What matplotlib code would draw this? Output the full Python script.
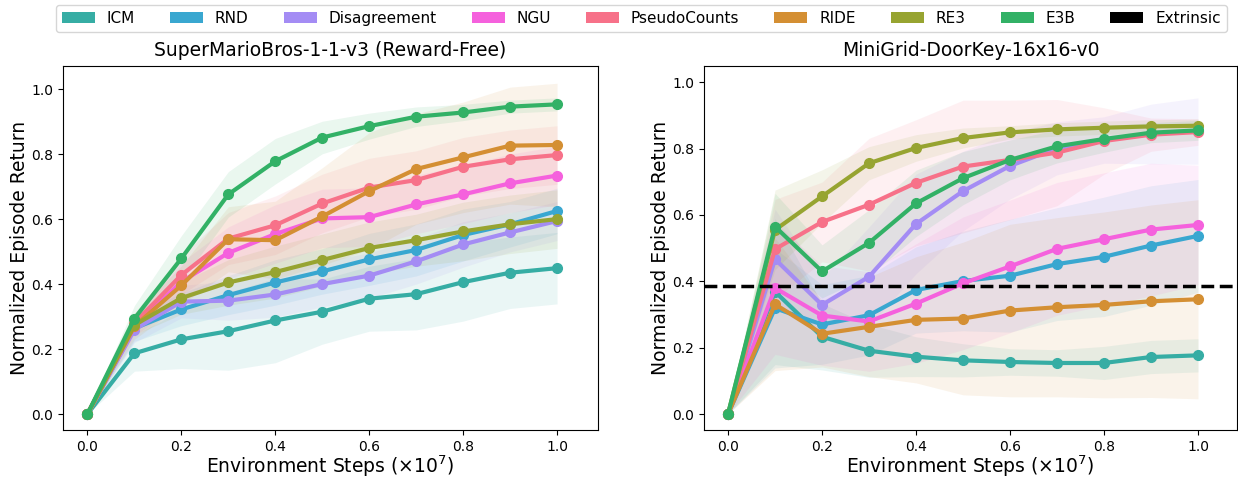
import numpy as np
import matplotlib
matplotlib.use("Agg")
import matplotlib.pyplot as plt
from matplotlib.patches import Patch

steps = [0.0, 0.1, 0.2, 0.3, 0.4, 0.5, 0.6, 0.7, 0.8, 0.9, 1.0]
methods = ["ICM", "RND", "Disagreement", "NGU", "PseudoCounts", "RIDE", "RE3", "E3B"]
colors = ["#36ada4", "#39a7d0", "#a48cf4", "#f561dd", "#f77189", "#d48f33", "#97a431", "#32b166"]

# SuperMarioBros-1-1-v3 (Reward-Free): mean curves
mario_mean = {
    "ICM":          [0, 0.187, 0.230, 0.255, 0.288, 0.315, 0.355, 0.369, 0.406, 0.435, 0.449],
    "RND":          [0, 0.264, 0.322, 0.366, 0.405, 0.439, 0.476, 0.505, 0.551, 0.584, 0.625],
    "Disagreement": [0, 0.260, 0.346, 0.349, 0.368, 0.400, 0.426, 0.470, 0.522, 0.559, 0.594],
    "NGU":          [0, 0.270, 0.407, 0.496, 0.554, 0.602, 0.606, 0.645, 0.676, 0.710, 0.734],
    "PseudoCounts": [0, 0.280, 0.428, 0.540, 0.581, 0.648, 0.697, 0.720, 0.761, 0.784, 0.797],
    "RIDE":         [0, 0.270, 0.396, 0.538, 0.535, 0.608, 0.686, 0.754, 0.790, 0.826, 0.828],
    "RE3":          [0, 0.274, 0.357, 0.405, 0.437, 0.474, 0.511, 0.535, 0.562, 0.584, 0.600],
    "E3B":          [0, 0.294, 0.479, 0.676, 0.778, 0.851, 0.886, 0.915, 0.928, 0.946, 0.953],
}
# spread of the shaded bands
mario_sd = {
    "ICM":          [0, 0.055, 0.09, 0.12, 0.13, 0.10, 0.10, 0.11, 0.12, 0.11, 0.11],
    "RND":          [0, 0.04, 0.05, 0.06, 0.07, 0.07, 0.08, 0.08, 0.08, 0.07, 0.07],
    "Disagreement": [0, 0.04, 0.05, 0.06, 0.07, 0.07, 0.07, 0.07, 0.07, 0.06, 0.06],
    "NGU":          [0, 0.03, 0.06, 0.08, 0.09, 0.09, 0.09, 0.09, 0.09, 0.09, 0.09],
    "PseudoCounts": [0, 0.03, 0.06, 0.08, 0.09, 0.09, 0.09, 0.09, 0.09, 0.09, 0.09],
    "RIDE":         [0, 0.04, 0.06, 0.10, 0.12, 0.15, 0.18, 0.17, 0.17, 0.18, 0.19],
    "RE3":          [0, 0.03, 0.05, 0.07, 0.08, 0.08, 0.08, 0.08, 0.09, 0.09, 0.09],
    "E3B":          [0, 0.04, 0.07, 0.07, 0.07, 0.05, 0.04, 0.03, 0.025, 0.02, 0.02],
}

# MiniGrid-DoorKey-16x16-v0
door_mean = {
    "ICM":          [0, 0.369, 0.233, 0.191, 0.173, 0.162, 0.157, 0.154, 0.154, 0.172, 0.177],
    "RND":          [0, 0.319, 0.270, 0.298, 0.374, 0.401, 0.417, 0.452, 0.474, 0.508, 0.537],
    "Disagreement": [0, 0.467, 0.329, 0.414, 0.573, 0.672, 0.748, 0.801, 0.826, 0.844, 0.853],
    "NGU":          [0, 0.380, 0.297, 0.279, 0.333, 0.394, 0.445, 0.498, 0.527, 0.556, 0.570],
    "PseudoCounts": [0, 0.497, 0.579, 0.631, 0.697, 0.746, 0.766, 0.788, 0.823, 0.842, 0.850],
    "RIDE":         [0, 0.331, 0.242, 0.263, 0.284, 0.288, 0.312, 0.322, 0.329, 0.340, 0.346],
    "RE3":          [0, 0.555, 0.656, 0.756, 0.802, 0.832, 0.849, 0.858, 0.863, 0.867, 0.869],
    "E3B":          [0, 0.565, 0.430, 0.516, 0.635, 0.711, 0.766, 0.807, 0.829, 0.848, 0.855],
}
door_sd = {
    "ICM":          [0, 0.22, 0.10, 0.08, 0.06, 0.05, 0.04, 0.04, 0.05, 0.05, 0.05],
    "RND":          [0, 0.18, 0.12, 0.12, 0.13, 0.15, 0.17, 0.17, 0.18, 0.18, 0.17],
    "Disagreement": [0, 0.15, 0.08, 0.15, 0.15, 0.12, 0.10, 0.08, 0.07, 0.09, 0.10],
    "NGU":          [0, 0.20, 0.15, 0.15, 0.18, 0.20, 0.20, 0.20, 0.20, 0.20, 0.18],
    "PseudoCounts": [0, 0.15, 0.12, 0.20, 0.19, 0.20, 0.18, 0.16, 0.10, 0.05, 0.04],
    "RIDE":         [0, 0.20, 0.10, 0.15, 0.19, 0.23, 0.26, 0.27, 0.28, 0.29, 0.30],
    "RE3":          [0, 0.12, 0.08, 0.05, 0.04, 0.03, 0.02, 0.02, 0.02, 0.02, 0.02],
    "E3B":          [0, 0.10, 0.08, 0.10, 0.10, 0.08, 0.06, 0.05, 0.04, 0.03, 0.03],
}
door_extrinsic = 0.386

fig = plt.figure(figsize=(12.38, 4.78), dpi=100)
ax1 = fig.add_axes([0.0509, 0.1004, 0.4321, 0.7615])
ax2 = fig.add_axes([0.5687, 0.1004, 0.4305, 0.7615])


def draw_panel(ax, means, sds, title):
    x = np.array(steps)
    for name, c in zip(methods, colors):
        m = np.array(means[name])
        s = np.array(sds[name])
        ax.fill_between(x, m - s, m + s, color=c, alpha=0.1, linewidth=0)
    for name, c in zip(methods, colors):
        ax.plot(x, means[name], color=c, linewidth=3, marker="o", markersize=7)
    ax.set_title(title, fontsize=13.5, pad=7)
    ax.set_xlabel(r"Environment Steps ($\times 10^7$)", fontsize=13.5, labelpad=0)
    ax.set_ylabel("Normalized Episode Return", fontsize=13.5, labelpad=2)
    ax.set_xticks([0, 0.2, 0.4, 0.6, 0.8, 1.0])
    ax.set_yticks([0, 0.2, 0.4, 0.6, 0.8, 1.0])
    ax.tick_params(labelsize=10)


draw_panel(ax1, mario_mean, mario_sd, "SuperMarioBros-1-1-v3 (Reward-Free)")
ax1.set_xlim(-0.052, 1.087)
ax1.set_ylim(-0.049, 1.071)

draw_panel(ax2, door_mean, door_sd, "MiniGrid-DoorKey-16x16-v0")
ax2.axhline(door_extrinsic, color="black", linestyle="--", linewidth=2.5)
ax2.set_xlim(-0.051, 1.083)
ax2.set_ylim(-0.048, 1.049)

handles = [Patch(facecolor=c, label=n) for n, c in zip(methods, colors)]
handles.append(Patch(facecolor="black", label="Extrinsic"))
fig.legend(handles=handles, loc="center", bbox_to_anchor=(0.518, 0.961), ncol=9,
           fontsize=11, frameon=True, handlelength=2.16, handletextpad=0.77,
           columnspacing=2.3, borderpad=0.4)

fig.savefig("out.png", dpi=100)
